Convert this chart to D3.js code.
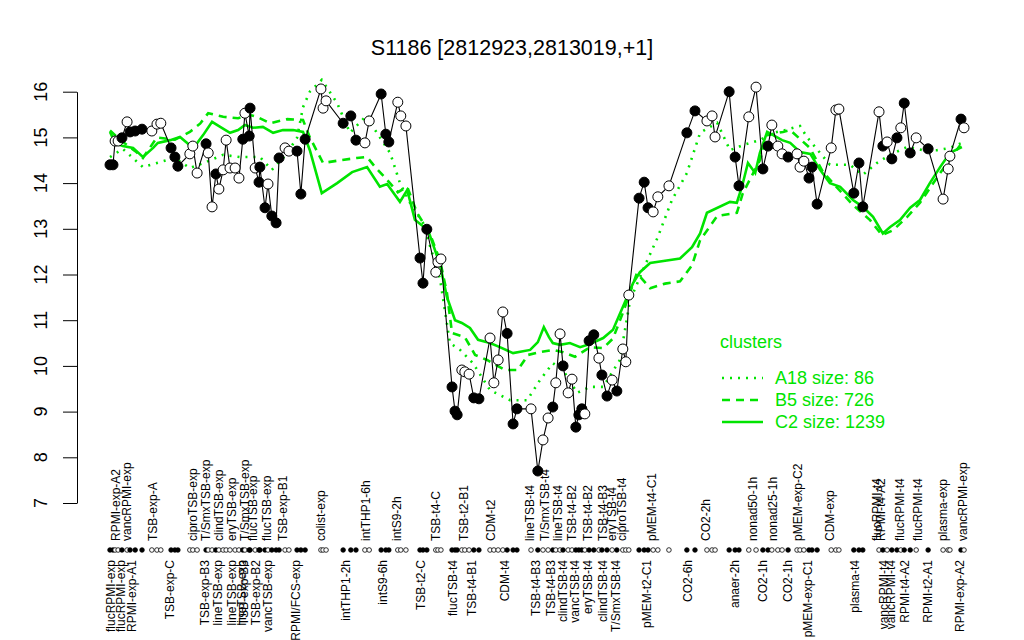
<!DOCTYPE html>
<html><head><meta charset="utf-8">
<script src="https://cdn.jsdelivr.net/npm/d3@7"></script>
<style>body{margin:0;background:#fff}svg{display:block;font-family:"Liberation Sans",Arial,Helvetica,sans-serif}</style>
</head><body><svg id="c" width="1024" height="640"></svg>
<script>
// ---- data (x = condition slot position, y = expression) ----
const title = "S1186 [2812923,2813019,+1]";
const yTicks = [7,8,9,10,11,12,13,14,15,16];
const pointPos = [0,0.7,1.2,1.9,2.8,4.0,4.7,5.9,7.5,9.8,11.0,11.9,14.3,15.2,15.9,18.7,19.4,20.4,22.5,23.0,23.9,24.8,25.5,26.5,27.2,28.1,29.3,30.2,31.1,31.6,32.6,32.8,34.0,34.9,35.1,36.3,37.0,37.9,38.9,39.6,41.0,41.9,43.8,44.7,45.7,49.4,49.9,50.6,54.6,56.4,57.6,59.7,60.7,63.5,64.6,65.3,67.4,68.1,69.3,72.6,73.3,74.2,76.3,76.8,77.5,80.1,80.8,81.3,82.4,83.1,84.1,85.2,86.4,89.0,89.9,90.9,92.0,93.0,94.4,95.3,98.6,100.2,101.4,102.6,103.7,104.4,105.4,106.1,107.3,108.2,109.1,109.8,110.5,111.2,112.2,113.3,114.5,115.2,116.4,117.6,118.7,120.1,120.8,121.5,123.9,125.1,126.0,127.2,128.3,130.9,135.1,137.0,139.8,141.0,141.7,145.0,146.4,147.3,149.6,151.3,152.9,154.1,155.0,156.4,157.4,158.8,160.9,161.6,162.5,163.7,164.4,165.6,168.9,170.0,170.7,174.2,175.4,176.3,180.1,181.0,182.0,183.1,184.3,185.2,186.0,187.4,188.8,191.6,195.1,196.3,196.7,199.3,200.0];
const pointVal = [14.40,14.40,14.92,14.92,14.99,15.34,15.12,15.14,15.18,15.14,15.29,15.31,14.77,14.57,14.37,14.64,14.81,14.22,14.86,14.66,13.48,14.20,13.87,14.29,14.94,14.33,14.33,14.11,14.96,15.53,15.03,15.64,14.33,14.02,14.35,13.46,13.98,13.28,13.13,14.55,14.77,14.70,14.70,13.76,14.96,16.06,15.64,15.80,15.31,15.47,14.94,14.88,15.36,15.95,15.07,14.90,15.77,15.47,15.25,12.36,11.81,12.99,12.05,12.27,12.34,9.54,9.01,8.93,9.91,9.87,9.82,9.30,9.28,10.61,9.63,10.13,11.18,10.71,8.73,9.06,9.06,7.70,8.38,8.86,9.10,9.63,10.70,10.00,9.41,9.71,8.66,8.93,9.06,8.95,10.55,10.68,10.17,9.80,9.34,9.69,9.45,10.37,10.09,11.55,13.67,14.02,13.46,13.37,13.70,13.94,15.10,15.58,15.36,15.47,15.01,16.00,14.57,13.94,15.45,16.10,14.31,14.81,15.27,14.81,14.64,14.57,14.64,14.35,14.48,14.11,14.35,13.54,14.77,15.60,15.62,13.78,14.44,13.48,15.56,14.81,14.90,14.53,14.99,15.21,15.75,14.66,14.99,14.75,13.65,14.31,14.59,15.40,15.21];
const pointFilled = [1,1,0,0,1,0,1,1,1,0,0,0,1,1,1,0,0,0,1,0,0,1,0,0,0,0,0,0,1,0,1,1,0,1,1,1,0,1,1,1,0,0,1,1,1,0,0,0,1,1,1,0,0,1,1,1,0,0,0,1,1,1,0,0,0,1,1,1,0,0,0,1,1,0,0,0,0,1,1,1,0,1,0,0,1,0,0,1,0,0,1,1,1,0,1,1,0,1,1,0,1,0,0,0,1,1,1,0,0,0,1,1,0,0,0,1,1,1,0,0,1,1,0,0,0,1,0,0,0,1,1,1,0,0,0,1,1,1,0,1,0,1,1,0,1,1,0,1,0,0,0,1,0];

const c2Pos = [0,1.2,3.0,5.4,7.7,10.1,11.2,14.1,16.4,18.7,19.9,21.8,23.9,25.8,28.1,30.0,31.6,33.5,35.8,38.2,40.5,42.9,45.2,46.8,49.6,53.2,56.7,60.2,63.2,64.9,67.9,69.6,71.4,74.5,77.3,78.9,80.8,82.4,84.3,86.2,89.0,91.3,94.4,98.4,100.2,101.6,102.8,103.7,105.4,107.7,110.1,112.4,115.5,117.8,120.1,122.5,124.1,126.5,130.0,133.5,136.3,138.2,139.8,145.2,146.8,148.0,149.4,151.1,152.2,153.9,155.3,157.4,159.3,161.6,164.0,166.3,168.6,171.0,174.0,176.3,178.7,181.0,182.7,185.0,187.4,189.7,192.0,194.4,196.7,199.5];
const c2Val = [15.12,14.88,14.81,14.77,14.57,14.77,14.88,14.94,15.01,14.83,14.81,15.05,15.34,15.23,15.10,15.16,15.27,15.21,15.23,15.10,15.16,15.16,15.12,14.72,13.78,14.0,14.24,14.35,13.92,13.98,13.59,13.85,13.2,12.97,12.21,11.51,11.0,10.94,10.83,10.57,10.5,10.41,10.28,10.35,10.52,10.85,10.63,10.5,10.46,10.5,10.41,10.48,10.61,10.79,11.29,11.81,12.05,12.25,12.3,12.35,12.6,12.9,13.35,13.59,13.57,13.92,14.44,14.22,14.66,15.12,15.05,14.94,14.88,14.68,14.64,14.29,14.0,13.92,13.63,13.48,13.26,12.9,13.04,13.19,13.46,13.63,14.0,14.35,14.66,14.79];
const b5Pos = [0,2.3,5.9,7.7,11.0,15.2,18.7,21.1,23.0,26.5,30.0,32.8,34.4,37.5,41.5,45.2,46.8,49.9,53.9,57.8,60.2,62.1,64.9,67.4,69.6,71.9,74.9,77.3,78.9,80.1,83.1,85.5,88.3,92.5,95.5,97.9,100.7,103.7,106.1,108.9,112.4,115.5,117.8,120.1,123.4,126.5,130.0,133.5,136.3,138.2,142.2,146.8,148.2,152.2,153.9,157.6,159.3,163.9,167.0,174.0,178.0,180.8,183.4,186.7,189.7,194.4,199.1];
const b5Val = [15.15,14.95,14.7,14.55,15.0,14.95,15.12,15.3,15.53,15.45,15.42,15.49,15.45,15.31,15.4,15.38,15.0,14.44,14.5,14.55,14.57,14.35,14.07,13.8,13.92,13.35,12.9,12.3,11.6,10.72,10.63,10.24,10.13,9.91,9.91,10.24,10.3,10.35,10.3,10.2,10.41,10.39,10.6,11.16,12.03,11.7,11.8,11.85,12.2,12.75,13.28,13.35,13.78,14.5,15.05,15.12,15.16,14.77,14.24,13.52,13.19,12.86,12.97,13.26,13.57,14.22,14.83];
const a18Pos = [0,3.0,7.7,11.0,15.2,18.7,22.2,26.5,30.4,35.1,37.9,41.0,43.8,45.2,46.8,49.6,53.2,56.2,60.2,61.6,65.6,66.7,67.9,70.3,73.3,77.3,79.6,82.0,85.0,89.0,93.7,97.7,100.7,103.7,106.1,109.4,112.4,115.5,119.4,121.8,125.3,128.3,131.6,135.1,138.2,142.2,145.2,148.2,152.2,155.3,158.1,161.6,163.2,168.6,173.3,176.3,179.6,182.7,186.7,190.4,193.7,196.7,199.5];
const a18Val = [14.57,14.75,14.35,14.44,14.55,14.33,14.45,14.62,14.57,14.57,14.29,14.6,14.99,15.66,16.0,16.26,15.75,15.10,15.49,15.23,14.66,14.35,14.0,13.56,13.13,11.9,10.5,10.35,10.06,9.47,9.25,9.25,9.69,10.06,9.91,9.41,9.54,9.54,10.13,11.44,12.2,12.82,13.63,14.22,15.1,15.32,14.72,14.83,14.94,15.1,15.16,15.25,15.01,14.4,14.4,14.18,14.44,14.62,14.79,14.72,14.72,14.77,14.88];

const topLabels = ["RPMI-exp-A2","vancRPMI-exp","TSB-exp-A","ciproTSB-exp","T/SmxTSB-exp","clindTSB-exp","eryTSB-exp","T/SmxTSB-exp","flucTSB-exp","flucTSB-exp","TSB-exp-B1","colist-exp","intTHP1-6h","intS9-2h","TSB-t4-C","TSB-t2-B1","CDM-t2","lineTSB-t4","T/SmxTSB-t4","lineTSB-t4","TSB-t4-B2","TSB-t4-B2","TSB-t4-B3","eryTSB-t4","ciproTSB-t4","pMEM-t4-C1","CO2-2h","nonad50-1h","nonad25-1h","pMEM-exp-C2","CDM-exp","flucRPMI-t4","RPMI-t4-A2","flucRPMI-t4","flucRPMI-t4","plasma-exp","vancRPMI-exp"];
const topLabelPos = [1.4,4.0,10.1,19.4,22.5,25.5,28.6,31.6,33.5,36.8,40.5,49.4,60.0,67.2,76.3,82.9,89.2,98.4,101.9,104.9,108.2,111.9,115.5,117.6,119.9,126.9,139.6,150.6,155.3,161.1,168.6,179.6,180.6,185.0,189.2,195.1,199.8];
const bottomLabels = ["flucRPMI-exp","flucRPMI-exp","RPMI-exp-A1","TSB-exp-C","TSB-exp-B3","lineTSB-exp","lineTSB-exp","lineTSB-exp","TSB-exp-B3","TSB-exp-B2","vancTSB-exp","RPMI/FCS-exp","intTHP1-2h","intS9-6h","TSB-t2-C","flucTSB-t4","TSB-t4-B1","CDM-t4","TSB-t4-B3","TSB-t4-B3","clindTSB-t4","vancTSB-t4","eryTSB-t4","clindTSB-t4","T/SmxTSB-t4","pMEM-t2-C1","CO2-6h","anaer-2h","CO2-1h","CO2-1h","pMEM-exp-C1","plasma-t4","vancRPMI-t4","vancRPMI-t4","RPMI-t4-A2","RPMI-t2-A1","RPMI-exp-A2"];
const bottomLabelPos = [0.2,2.6,5.2,14.1,22.2,25.3,28.6,30.9,31.4,34.2,37.0,43.6,55.3,63.9,72.8,80.3,84.8,92.5,99.8,103.3,106.1,108.9,111.9,115.5,118.5,125.8,135.4,146.4,152.9,158.8,163.5,174.5,181.3,182.9,186.2,191.6,199.1];

const clusterNames = ["A18 size: 86","B5 size: 726","C2 size: 1239"];

// ---- drawing ----
const svg = d3.select("#c");
const green = "#00e400";
const x = d3.scaleLinear().domain([0,200]).range([110,964]);
const y = d3.scaleLinear().domain([7,16]).range([503,91.7]);

svg.append("text").attr("x",512).attr("y",47).attr("dy","0.35em")
  .attr("text-anchor","middle").attr("font-size",21.5).text(title);

// y axis
const ax = svg.append("g").attr("transform","translate(77,0)")
  .call(d3.axisLeft(y).tickValues(yTicks).tickSize(14).tickSizeOuter(0).tickFormat(""));
ax.select(".domain").attr("stroke","#000").attr("stroke-width",1);
ax.selectAll(".tick line").attr("stroke","#000");
svg.selectAll(".ylab").data(yTicks).enter().append("text")
  .attr("transform",d=>`translate(41,${y(d)}) rotate(-90)`)
  .attr("dy","0.35em").attr("text-anchor","middle").attr("font-size",18).text(d=>d);

// cluster lines
const series = [
  {pos:a18Pos,val:a18Val,dash:"2,6"},
  {pos:b5Pos,val:b5Val,dash:"8,6"},
  {pos:c2Pos,val:c2Val,dash:null}
];
const line = d3.line().x(d=>x(d[0])).y(d=>y(d[1]));
series.forEach(s=>{
  svg.append("path").datum(s.pos.map((p,i)=>[p,s.val[i]]))
    .attr("d",line).attr("fill","none").attr("stroke",green)
    .attr("stroke-width",2.6).attr("stroke-dasharray",s.dash);
});

// data line + points
const pts = pointPos.map((p,i)=>({p,v:pointVal[i],f:pointFilled[i]}));
svg.append("path").datum(pts.map(d=>[d.p,d.v])).attr("d",line)
  .attr("fill","none").attr("stroke","#000").attr("stroke-width",1.1);
svg.selectAll(".pt").data(pts).enter().append("circle")
  .attr("cx",d=>x(d.p)).attr("cy",d=>y(d.v)).attr("r",5)
  .attr("fill",d=>d.f?"#000":"#fff").attr("stroke","#000").attr("stroke-width",1);

// strip
svg.selectAll(".st").data(pts).enter().append("circle")
  .attr("cx",d=>x(d.p)).attr("cy",550).attr("r",2.3)
  .attr("fill",d=>d.f?"#000":"#fff").attr("stroke","#000").attr("stroke-width",0.8);

// x labels
svg.selectAll(".tl").data(topLabels).enter().append("text")
  .attr("transform",(d,i)=>`translate(${x(topLabelPos[i])},541) rotate(-90)`)
  .attr("dy","0.35em").attr("text-anchor","start").attr("font-size",12).text(d=>d);
svg.selectAll(".bl").data(bottomLabels).enter().append("text")
  .attr("transform",(d,i)=>`translate(${x(bottomLabelPos[i])},560) rotate(-90)`)
  .attr("dy","0.35em").attr("text-anchor","end").attr("font-size",12).text(d=>d);

// legend
const lg = svg.append("g");
lg.append("text").attr("x",720).attr("y",342).attr("dy","0.35em")
  .attr("font-size",18).attr("fill",green).text("clusters");
series.forEach((s,i)=>{
  const yy = 378 + i*22;
  lg.append("line").attr("x1",722).attr("x2",763).attr("y1",yy).attr("y2",yy)
    .attr("stroke",green).attr("stroke-width",2.6).attr("stroke-dasharray",s.dash);
  lg.append("text").attr("x",775).attr("y",yy).attr("dy","0.35em")
    .attr("font-size",18).attr("fill",green).text(clusterNames[i]);
});
</script></body></html>
